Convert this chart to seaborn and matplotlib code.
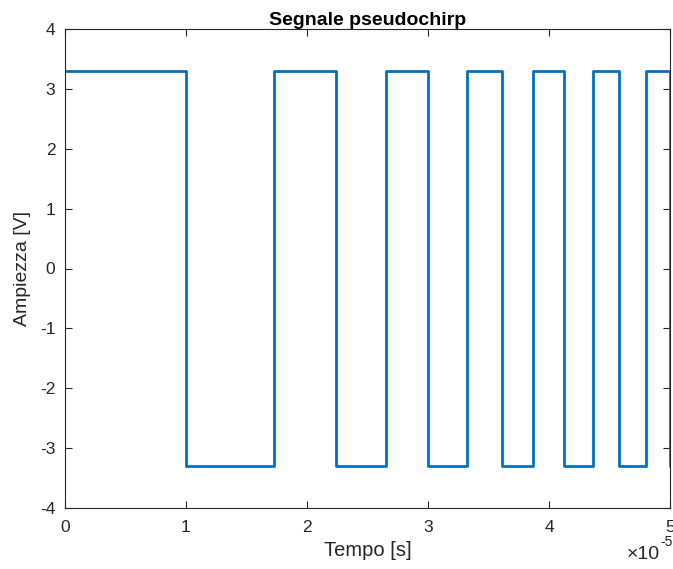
import matplotlib
matplotlib.use("Agg")
import matplotlib.pyplot as plt
import seaborn as sns
import pandas as pd
from matplotlib.ticker import FuncFormatter, MultipleLocator

# Switching instants of the square pseudo-chirp (seconds) and output levels (V)
switch_times = [0.0, 1.0e-5, 1.73e-5, 2.24e-5, 2.65e-5, 3.0e-5, 3.32e-5,
                3.61e-5, 3.87e-5, 4.12e-5, 4.36e-5, 4.58e-5, 4.80e-5, 5.0e-5]
levels = [3.3, -3.3, 3.3, -3.3, 3.3, -3.3, 3.3,
          -3.3, 3.3, -3.3, 3.3, -3.3, 3.3, -3.3]

sns.set_theme(style="white")
plt.rcParams["font.family"] = ["Liberation Sans", "DejaVu Sans"]

df = pd.DataFrame({"t": switch_times, "v": levels})

fig = plt.figure(figsize=(6.73, 5.69), dpi=100)
ax = fig.add_axes([65 / 673, 1 - 508 / 569, 605 / 673, 479 / 569])

sns.lineplot(data=df, x="t", y="v", ax=ax, estimator=None, sort=False,
             drawstyle="steps-post", color="#0072BD", linewidth=2.0)

ax.set_xlim(0, 5e-5)
ax.set_ylim(-4, 4)
ax.xaxis.set_major_locator(MultipleLocator(1e-5))
ax.yaxis.set_major_locator(MultipleLocator(1))
ax.xaxis.set_major_formatter(FuncFormatter(lambda x, p: f"{x * 1e5:g}"))
ax.yaxis.set_major_formatter(FuncFormatter(lambda y, p: f"{y:g}"))

edge = "#262626"
for s in ax.spines.values():
    s.set_visible(True)
    s.set_color(edge)
    s.set_linewidth(0.8)
ax.tick_params(axis="both", which="major", direction="in", length=5,
               width=0.8, color=edge, labelcolor=edge, labelsize=12.5,
               top=True, right=True, bottom=True, left=True)
ax.tick_params(axis="x", pad=9)
ax.tick_params(axis="y", pad=7)

ax.set_xlabel("Tempo [s]", fontsize=14.5, color=edge, labelpad=4)
ax.set_ylabel("Ampiezza [V]", fontsize=14, color=edge, labelpad=6)
ax.set_title("Segnale pseudochirp", fontsize=14, fontweight="bold",
             color="black", pad=3)

# scale factor of the time axis
fig.text(0.981, 0.010, "\u00d710", ha="right", va="bottom",
         fontsize=14, color=edge)
fig.text(0.981, 0.036, "-5", ha="left", va="bottom",
         fontsize=10, color=edge)

fig.savefig("out.png", dpi=100, facecolor="white")
